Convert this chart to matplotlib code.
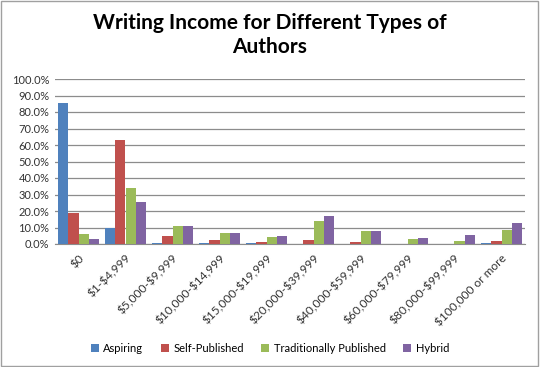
import matplotlib
matplotlib.use("Agg")
import matplotlib.pyplot as plt
import numpy as np
from matplotlib.patches import Rectangle
from matplotlib.ticker import FuncFormatter

plt.rcParams["font.family"] = ["Lato", "DejaVu Sans"]
plt.rcParams["text.parse_math"] = False

categories = ["$0", "$1-$4,999", "$5,000-$9,999", "$10,000-$14,999",
              "$15,000-$19,999", "$20,000-$39,999", "$40,000-$59,999",
              "$60,000-$79,999", "$80,000-$99,999", "$100,000 or more"]
aspiring = [85.5, 9.8, 0.4, 0.4, 0.4, 0.3, 0.3, 0.3, 0.3, 0.4]
self_published = [18.6, 63.1, 4.9, 2.7, 1.0, 2.2, 1.4, 0.3, 0.3, 1.6]
traditional = [6.1, 34.0, 10.7, 6.7, 4.4, 14.0, 7.8, 2.8, 1.6, 8.6]
hybrid = [2.8, 25.4, 10.7, 6.7, 5.0, 16.9, 7.8, 3.4, 5.4, 12.8]

series = [("Aspiring", aspiring, "#4F81BD"),
          ("Self-Published", self_published, "#C0504D"),
          ("Traditionally Published", traditional, "#9BBB59"),
          ("Hybrid", hybrid, "#8064A2")]

fig = plt.figure(figsize=(5.4, 3.67), dpi=100)
ax = fig.add_axes([55 / 540, 1 - 244 / 367, 470 / 540, 165 / 367])

x = np.arange(len(categories))
width = 0.217
for i, (name, vals, color) in enumerate(series):
    ax.bar(x + (i - 1.5) * width, vals, width, color=color, label=name,
           zorder=3, linewidth=0)

ax.set_xlim(-0.5, len(categories) - 0.5)
ax.set_ylim(0, 100)
ax.set_yticks(np.arange(0, 101, 10))
ax.yaxis.set_major_formatter(FuncFormatter(lambda v, p: f"{v:.1f}%"))
ax.yaxis.grid(True, color="#8c8c8c", linewidth=0.9, zorder=0)
ax.set_xticks(x)
ax.set_xticklabels(categories, rotation=45, ha="right", rotation_mode="anchor")
ax.tick_params(axis="both", labelsize=8, length=0, colors="#333333")
ax.tick_params(axis="x", pad=6, labelsize=8.6)
ax.tick_params(axis="y", pad=4)
for side in ["left", "right", "top"]:
    ax.spines[side].set_visible(False)
ax.spines["bottom"].set_color("#8c8c8c")

fig.text(0.5, 1 - 35 / 367, "Writing Income for Different Types of\nAuthors",
         ha="center", va="center", fontsize=15, fontweight="bold",
         linespacing=1.2)

fig.legend(loc="center", bbox_to_anchor=(0.5, 1 - 348 / 367), ncol=4,
           frameon=False, fontsize=8, handlelength=0.7, handleheight=0.7,
           handletextpad=0.4, columnspacing=1.6)

fig.add_artist(Rectangle((0.002, 0.003), 0.995, 0.994, transform=fig.transFigure,
                         fill=False, edgecolor="#a0a0a0", linewidth=1))

fig.savefig("out.png", dpi=100)
